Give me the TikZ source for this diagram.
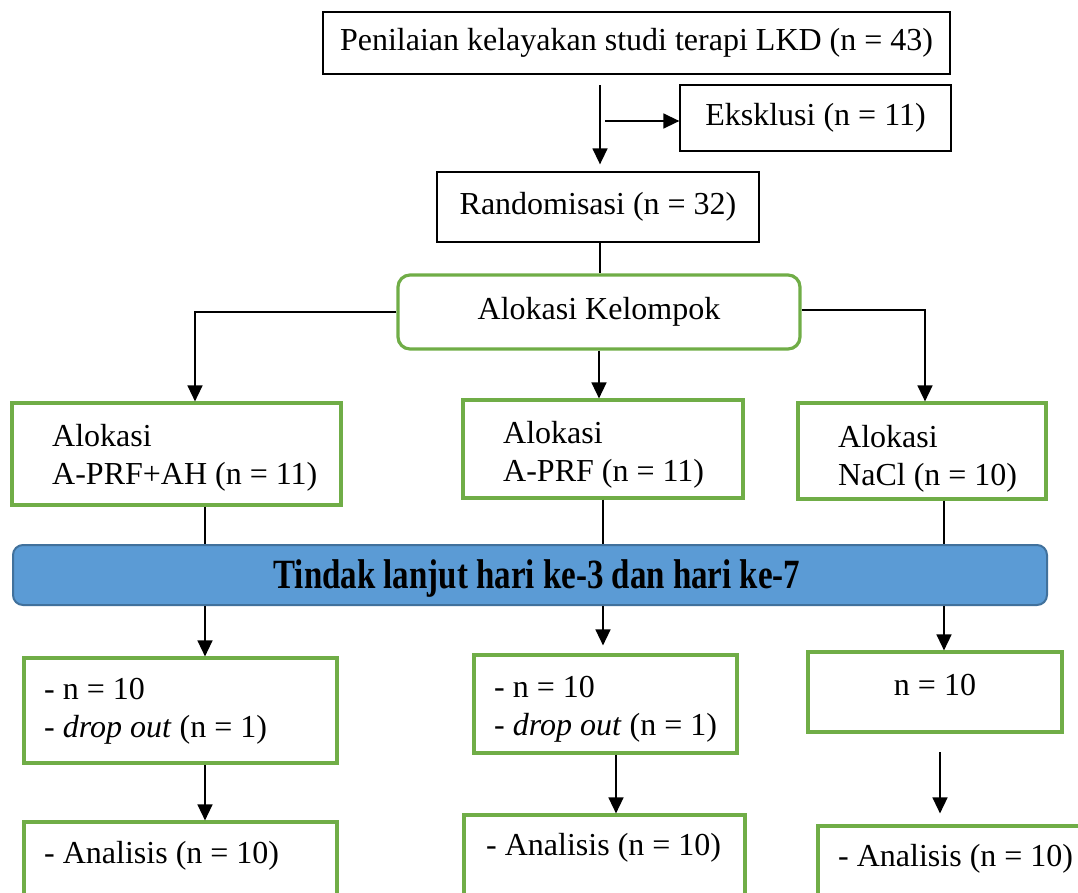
\documentclass[tikz,border=0pt]{standalone}
\usepackage{fontspec}
\setmainfont{Liberation Serif}
\usetikzlibrary{arrows.meta}
\definecolor{boxgreen}{HTML}{70AD47}
\definecolor{barfill}{HTML}{5B9BD5}
\definecolor{barline}{HTML}{41719C}

\begin{document}
\begin{tikzpicture}[x=1pt,y=-1pt,
  every node/.style={font=\fontsize{32}{38}\selectfont, inner sep=0pt},
  plainbox/.style={draw=black, line width=1.3pt, rectangle},
  greenbox/.style={draw=boxgreen, line width=3.2pt, rectangle},
  roundgreen/.style={greenbox, rounded corners=12pt},
  followbar/.style={draw=barline, fill=barfill, line width=2pt, rounded corners=10pt},
  txt/.style={anchor=west, align=left},
  conn/.style={line width=1.5pt},
  arrowline/.style={conn, -{Triangle[length=16pt,width=15pt]}},
]
\useasboundingbox (0,0) rectangle (1078,892);
\clip (0,0) rectangle (1078,892);

% screening and randomisation
\node[plainbox, minimum width=627pt, minimum height=62pt] (assess) at (636.5,43) {Penilaian kelayakan studi terapi LKD (n = 43)};
\node[plainbox, minimum width=271pt, minimum height=66pt] (excl) at (815.5,118) {Eksklusi (n = 11)};
\node[plainbox, minimum width=322pt, minimum height=70pt] (rand) at (598,207) {Randomisasi (n = 32)};
\node[roundgreen, minimum width=402pt, minimum height=74pt] (alloc) at (599,312) {Alokasi Kelompok};

% treatment groups
\node[greenbox, minimum width=329pt, minimum height=102pt] (grpA) at (176.5,454) {};
\node[txt] (grpAtext) at (52,458) {Alokasi\\A-PRF+AH (n = 11)};
\node[greenbox, minimum width=280pt, minimum height=98pt] (grpB) at (603,449) {};
\node[txt] (grpBtext) at (503,455) {Alokasi\\A-PRF (n = 11)};
\node[greenbox, minimum width=248pt, minimum height=96pt] (grpC) at (922,451) {};
\node[txt] (grpCtext) at (838,459) {Alokasi\\NaCl (n = 10)};

% follow-up bar
\node[followbar, minimum width=1034pt, minimum height=60pt] (follow) at (530,575) {};
\node[font=\fontsize{32}{38}\selectfont\bfseries] (followtext) at (537,578) {\scalebox{1.03}[1.3]{Tindak lanjut hari ke-3 dan hari ke-7}};

% follow-up results
\node[greenbox, minimum width=313pt, minimum height=105pt] (endA) at (180.5,710.5) {};
\node[txt] (endAtext) at (44,711) {- n = 10\\- \textit{drop out} (n = 1)};
\node[greenbox, minimum width=263pt, minimum height=98pt] (endB) at (605.5,704) {};
\node[txt] (endBtext) at (494,709) {- n = 10\\- \textit{drop out} (n = 1)};
\node[greenbox, minimum width=254pt, minimum height=80pt] (endC) at (935,692) {};
\node (endCtext) at (935,685) {n = 10};

% analysis
\node[greenbox, minimum width=313pt, minimum height=100pt] (anA) at (180.5,872) {};
\node[txt] (anAtext) at (44,856) {- Analisis (n = 10)};
\node[greenbox, minimum width=281pt, minimum height=100pt] (anB) at (604.5,865) {};
\node[txt] (anBtext) at (486,848) {- Analisis (n = 10)};
\node[greenbox, minimum width=272pt, minimum height=100pt] (anC) at (954,876) {};
\node[txt] (anCtext) at (838,859) {- Analisis (n = 10)};

% connector ports
\coordinate (splitTop) at (600,85);
\coordinate (exclStart) at (605,121);
\coordinate (randOut) at (600,242);
\coordinate (aIn) at ([xshift=18.5pt]grpA.north);
\coordinate (cIn) at ([xshift=3pt]grpC.north);
\coordinate (aOut) at ([xshift=28.5pt]grpA.south);
\coordinate (cOut) at ([xshift=22pt]grpC.south);
\coordinate (aFol) at ([xshift=24.5pt]endA.north);
\coordinate (bFol) at ([xshift=-2.5pt]endB.north);
\coordinate (cFol) at ([xshift=9pt]endC.north);
\coordinate (aAn) at ([xshift=24.5pt]anA.north);
\coordinate (bAn) at ([xshift=11.5pt]anB.north);
\coordinate (cDrop) at (940,752);

% connectors
\draw[arrowline, shorten >=7pt] (splitTop) -- (splitTop |- rand.north);
\draw[arrowline] (exclStart) -- (exclStart -| excl.west);
\draw[conn] (randOut) -- (randOut |- alloc.north);
\draw[arrowline] (alloc.west) -| (aIn);
\draw[arrowline] ([yshift=2pt]alloc.east) -| (cIn);
\draw[arrowline] (alloc.south) -- (alloc.south |- grpB.north);
\draw[conn] (aOut) -- (aOut |- follow.north);
\draw[conn] (grpB.south) -- (grpB.south |- follow.north);
\draw[conn] (cOut) -- (cOut |- follow.north);
\draw[arrowline] (follow.south -| aFol) -- (aFol);
\draw[arrowline, shorten >=8pt] (follow.south -| bFol) -- (bFol);
\draw[arrowline] (follow.south -| cFol) -- (cFol);
\draw[arrowline] (aFol |- endA.south) -- (aAn);
\draw[arrowline] (bAn |- endB.south) -- (bAn);
\draw[arrowline, shorten >=11pt] (cDrop) -- (cDrop |- anC.north);
\end{tikzpicture}
\end{document}
